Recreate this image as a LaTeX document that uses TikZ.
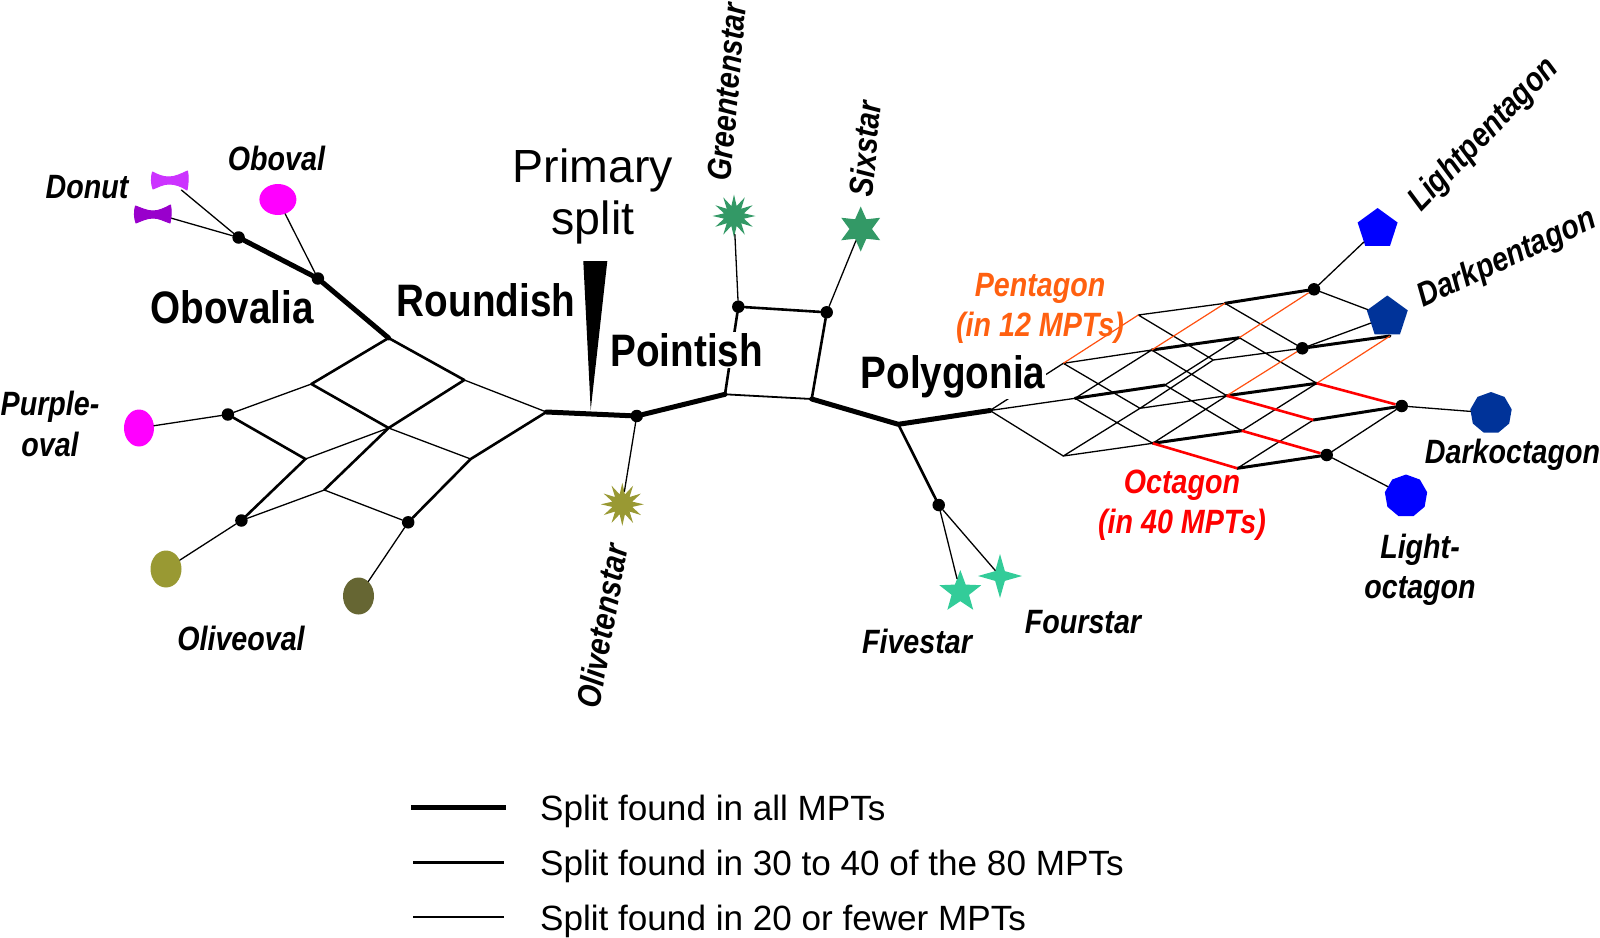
\documentclass[tikz,border=0pt]{standalone}
\usepackage{fontspec}
\usetikzlibrary{shapes.geometric}
\setmainfont{Liberation Sans}
\newfontfamily\narrowbf[FakeStretch=0.85]{Liberation Sans}
\definecolor{cOboval}{HTML}{FF00FF}
\definecolor{cOlive}{HTML}{999933}
\definecolor{cDarkOlive}{HTML}{666633}
\definecolor{cDonutA}{HTML}{CC33FF}
\definecolor{cDonutB}{HTML}{9900CC}
\definecolor{cOliveStar}{HTML}{999933}
\definecolor{cGreenStar}{HTML}{339966}
\definecolor{cSeaStar}{HTML}{33CC99}
\definecolor{cDarkBlue}{HTML}{003399}
\definecolor{cOrange}{HTML}{FF6010}
\definecolor{cOrangeLine}{HTML}{FF5010}
\tikzset{
  dot/.style={circle,fill=black,inner sep=0,minimum size=12.5pt},
  fine/.style={line width=1.3pt,line cap=round},
  mid/.style={line width=2.6pt,line cap=round},
  latm/.style={line width=3pt,line cap=round},
  heavy/.style={line width=5pt,line cap=round,line join=round},
  fineorange/.style={line width=1.2pt,color=cOrangeLine},
  redline/.style={line width=2.6pt,color=red},
  oval/.style={ellipse,inner sep=0},
  tenstar/.style={star,star points=12,star point ratio=2.1,inner sep=0,minimum size=43pt},
  sixstar/.style={star,star points=6,star point ratio=2.0,inner sep=0,minimum size=45pt},
  fivestar/.style={star,star points=5,star point ratio=2.4,inner sep=0,minimum size=44pt},
  fourstar/.style={star,star points=4,star point ratio=3.2,inner sep=0,minimum size=44pt},
  pent/.style={regular polygon,regular polygon sides=5,inner sep=0},
  octa/.style={regular polygon,regular polygon sides=9,inner sep=0},
  lab/.style={font=\narrowbf\bfseries\itshape\fontsize{33.7}{40.5}\selectfont,inner sep=0,align=center},
  clade/.style={font=\narrowbf\bfseries\fontsize{45.5}{50}\selectfont,inner sep=1pt},
  big/.style={font=\fontsize{46.5}{52}\selectfont,inner sep=0,align=center},
  legendtext/.style={font=\fontsize{35.1}{38}\selectfont,inner sep=0,anchor=west},
}
\begin{document}
\begin{tikzpicture}[x=1pt,y=-1pt]
\useasboundingbox (0,0) rectangle (1600,937);
% left junctions
\node[dot] (nDonut) at (238.6,237.5) {};
\node[dot] (nObo) at (317.9,278.5) {};
\coordinate (A) at (388.6,338);
\coordinate (B) at (464.3,380);
\coordinate (C) at (546.4,412);
\coordinate (D) at (311.4,384);
\node[dot] (E) at (227.9,414.5) {};
\coordinate (F) at (388.6,428);
\coordinate (G) at (470.7,459);
\coordinate (H) at (305.4,459);
\coordinate (I) at (324.3,490);
\node[dot] (J) at (241.4,520.5) {};
\node[dot] (K) at (408.2,522.3) {};
% tips on left
\coordinate (donutTipA) at (181.4,190);
\coordinate (donutTipB) at (170.7,218);
\node[oval,fill=cOboval,minimum width=37pt,minimum height=31pt] (obo) at (277.9,199.5) {};
\node[oval,fill=cOboval,minimum width=30pt,minimum height=37pt] (pur) at (139,428) {};
\node[oval,fill=cOlive,minimum width=31pt,minimum height=37pt] (oli) at (166,569) {};
\node[oval,fill=cDarkOlive,minimum width=31pt,minimum height=37pt] (dol) at (358.5,596) {};
% centre
\node[dot] (nOliv) at (636.7,416) {};
\coordinate (R) at (725,394.3);
\coordinate (S) at (811.7,399);
\coordinate (T) at (898.3,424.3);
\coordinate (U) at (990,410.5);
\node[dot] (nGreen) at (738.3,306.7) {};
\node[dot] (nSix) at (826.7,312.3) {};
\node[dot] (nFive) at (938.7,505) {};
\node[tenstar,fill=cOliveStar] (sOliv) at (622.3,504.3) {};
\node[tenstar,fill=cGreenStar] (sGreen) at (734,216) {};
\node[sixstar,fill=cGreenStar] (sSix) at (860.7,229) {};
\node[fivestar,fill=cSeaStar] (sFive) at (960.3,592) {};
\node[fourstar,fill=cSeaStar] (sFour) at (1000,576) {};
% lattice
\coordinate (a) at (1063.3,363.3);
\coordinate (b) at (1138.3,315);
\coordinate (c) at (1225,303.3);
\node[dot] (d) at (1314,289.3) {};
\coordinate (e) at (1151.7,350);
\coordinate (f) at (1239.3,337.7);
\node[dot] (g) at (1302.3,348.3) {};
\coordinate (i) at (1075,398.3);
\coordinate (j) at (1165,385);
\coordinate (k) at (1213.3,360);
\coordinate (l) at (1226.7,395.7);
\coordinate (m) at (1316.7,383.3);
\coordinate (n) at (1140,408.3);
\coordinate (o) at (1063.3,456);
\coordinate (p) at (1152.7,443.3);
\coordinate (q) at (1241.7,430.7);
\coordinate (r) at (1313.3,420);
\node[dot] (s) at (1401.7,406) {};
\coordinate (t) at (1237.3,468.3);
\node[dot] (v) at (1326.7,455) {};
\node[pent,fill=blue,minimum size=42pt] (pLight) at (1377.6,229) {};
\node[pent,fill=cDarkBlue,minimum size=43pt] (pDark) at (1387.3,317) {};
\node[octa,fill=cDarkBlue,minimum size=42pt] (oDark) at (1491,413) {};
\node[octa,fill=blue,minimum size=43pt] (oLight) at (1406,496) {};
\coordinate (pDarkS) at (1390,336);

% connectors, left
\draw[fine] (donutTipA) -- (nDonut);
\draw[fine] (donutTipB) -- (nDonut);
\draw[fine] (obo) -- (nObo);
\draw[heavy] (nDonut) -- (nObo) -- (A);
\draw[mid] (A) -- (B) (A) -- (D) (B) -- (F) -- (I) (D) -- (F) (E) -- (H) -- (J) (G) -- (C) (G) -- (K);
\draw[fine] (B) -- (C) (D) -- (E) (H) -- (F) (F) -- (G) (I) -- (J) (I) -- (K);
\draw[fine] (E) -- (pur) (J) -- (oli) (K) -- (dol);
% connectors, centre
\draw[heavy] (C) -- (nOliv) -- (R) (S) -- (T) -- (U);
\draw[line width=1.8pt] (R) -- (S);
\draw[mid] (R) -- (nGreen) -- (nSix) -- (S);
\draw[mid] (T) -- (nFive);
\draw[fine] (nOliv) -- (sOliv) (nGreen) -- (sGreen) (nSix) -- (sSix) (nFive) -- (sFive) (nFive) -- (sFour);
% connectors, lattice
\draw[fine] (U) -- (a) (U) -- (i) (U) -- (o);
\draw[fine] (a) -- (e) (a) -- (n) (b) -- (c) (b) -- (k) (k) -- (g) (c) -- (g)
  (e) -- (l) (f) -- (m) (i) -- (e) (i) -- (p) (j) -- (q) (j) -- (f) (n) -- (k) (n) -- (l)
  (o) -- (p) (o) -- (n) (p) -- (l) (q) -- (m) (t) -- (r) (v) -- (s)
  (d) -- (pDark) (g) -- (pDark) (d) -- (pLight) (s) -- (oDark) (v) -- (oLight);
\draw[latm] (c) -- (d) (e) -- (f) (i) -- (j) (l) -- (m) (p) -- (q) (t) -- (v) (r) -- (s) (g) -- (pDarkS);
\draw[fineorange] (a) -- (b) (e) -- (c) (f) -- (d) (l) -- (g) (m) -- (pDarkS);
\draw[redline] (p) -- (t) (q) -- (v) (l) -- (r) (m) -- (s);
% bowties
\filldraw[cDonutA,line width=1pt,line join=round] (152.5,172) .. controls (158,175) and (163,177) .. (169,177) .. controls (175,177) and (181,174) .. (187.5,171)
  .. controls (188.5,176) and (188.5,183) .. (187,190) .. controls (181,186) and (175,184) .. (169,184)
  .. controls (163,184) and (158,187) .. (153,189) .. controls (151,184) and (151,177) .. (152.5,172) -- cycle;
\filldraw[cDonutB,line width=1pt,line join=round] (135.5,206) .. controls (141,208) and (147,211) .. (153,211) .. controls (159,211) and (165,208) .. (170.5,205)
  .. controls (171.5,210) and (171.5,217) .. (170,223) .. controls (164,221) and (159,218) .. (153,218)
  .. controls (147,218) and (141,221) .. (136,223) .. controls (134,218) and (134,211) .. (135.5,206) -- cycle;
% wedge
\fill (583.3,261) -- (607.3,261) -- (590.7,410) -- cycle;
% labels
\node[lab] (lDonut) at (87,187) {Donut};
\node[lab] (lOboval) at (276.5,158) {Oboval};
\node[clade] (lObovalia) at (232,307) {Obovalia};
\node[clade] (lRoundish) at (486,300) {Roundish};
\node[big] (lPrimary) at (593,196) {Primary\\split};
\node[clade,fill=white] (lPointish) at (686.7,350) {Pointish};
\node[clade,fill=white] (lPolygonia) at (953,377) {Polygonia};
\node[lab,text=cOrange] (lPent) at (1040,308.5) {Pentagon\\(in 12 MPTs)};
\node[lab,text=red] (lOct) at (1182,505) {Octagon\\(in 40 MPTs)};
\node[lab] (lPurple) at (50,424) {Purple-\\oval};
\node[lab] (lOlive) at (241,638) {Oliveoval};
\node[lab,rotate=80] (lOlivet) at (602,626) {Olivetenstar};
\node[lab,rotate=85] (lGreen) at (727,92) {Greentenstar};
\node[lab,rotate=85] (lSix) at (865,149) {Sixstar};
\node[lab] (lFive) at (917,641) {Fivestar};
\node[lab] (lFour) at (1083,622) {Fourstar};
\node[lab,rotate=46] (lLP) at (1484,135) {Lightpentagon};
\node[lab,rotate=25] (lDP) at (1507,259) {Darkpentagon};
\node[lab] (lDO) at (1512.5,455) {Darkoctagon};
\node[lab] (lLO) at (1420,570) {Light-\\octagon};
% legend
\coordinate (l1a) at (411,807); \coordinate (l1b) at (506,807);
\coordinate (l2a) at (413,862); \coordinate (l2b) at (504,862);
\coordinate (l3a) at (413,917); \coordinate (l3b) at (504,917);
\draw[line width=5pt] (l1a) -- (l1b);
\draw[line width=3pt] (l2a) -- (l2b);
\draw[line width=1.1pt] (l3a) -- (l3b);
\node[legendtext] (t1) at (540,811) {Split found in all MPTs};
\node[legendtext] (t2) at (540,866) {Split found in 30 to 40 of the 80 MPTs};
\node[legendtext] (t3) at (540,921) {Split found in 20 or fewer MPTs};
\end{tikzpicture}
\end{document}
